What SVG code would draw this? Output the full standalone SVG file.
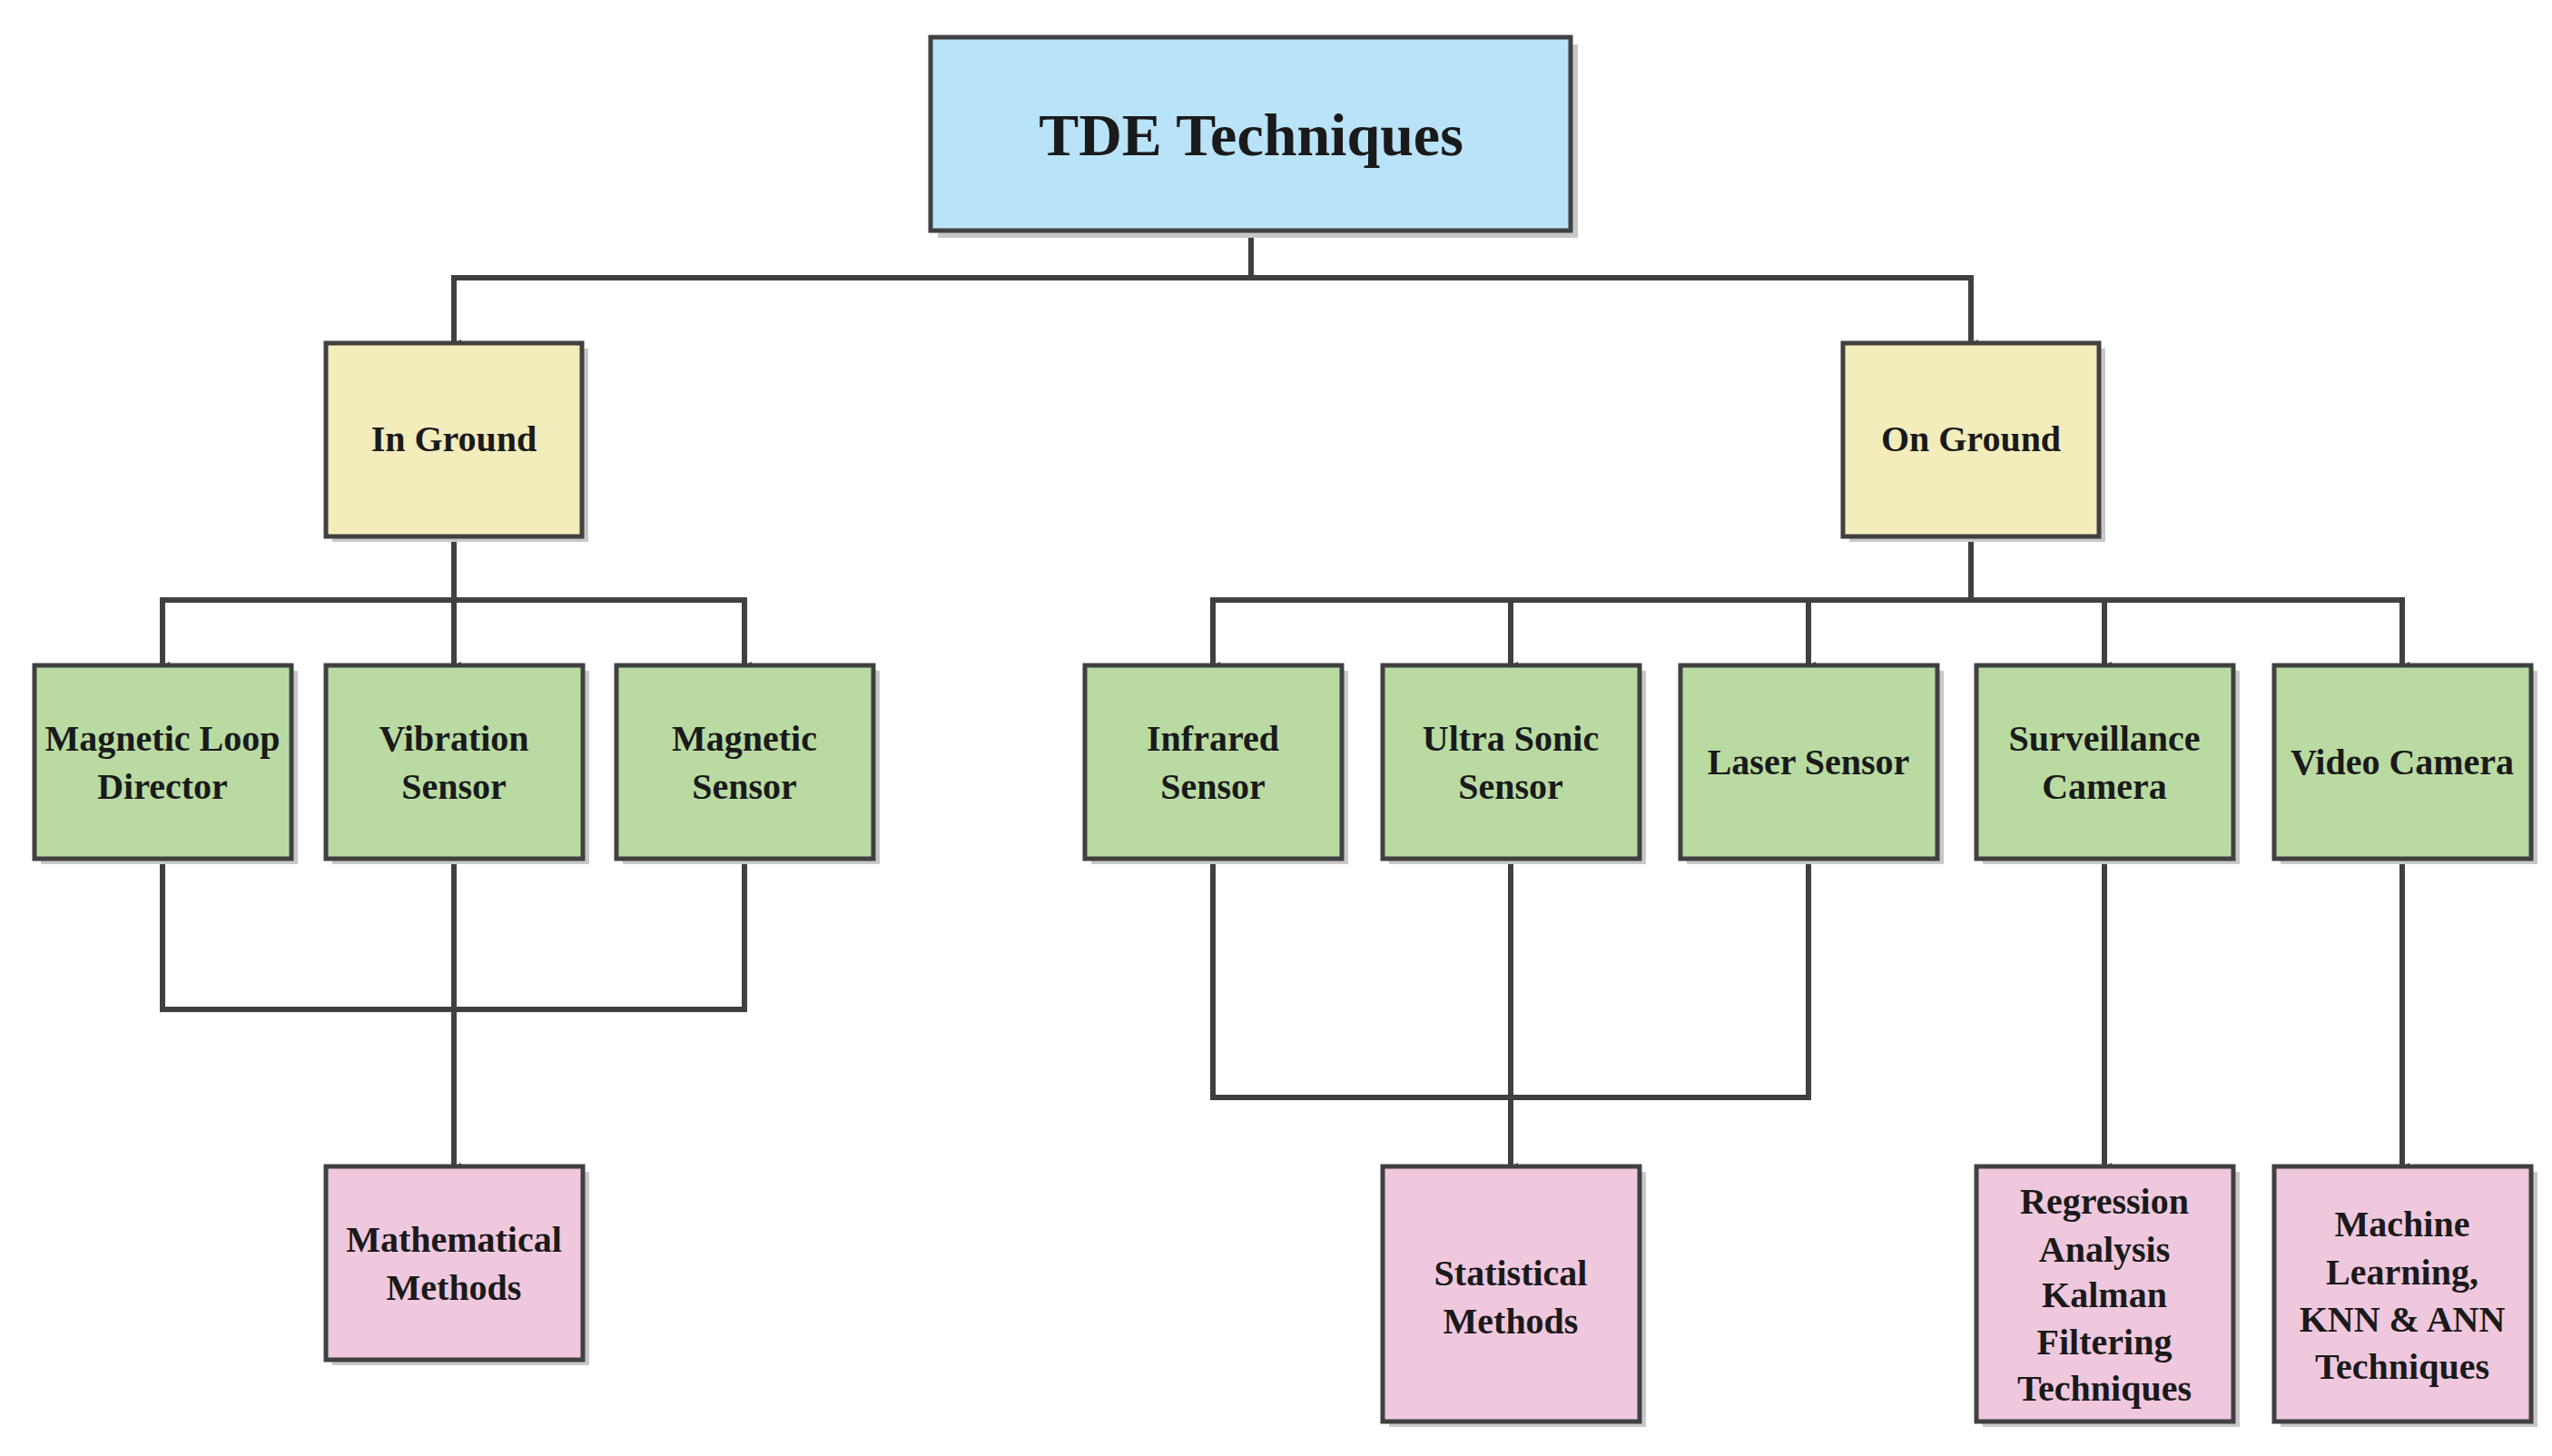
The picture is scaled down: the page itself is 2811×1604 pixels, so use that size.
<svg xmlns="http://www.w3.org/2000/svg" width="2811" height="1604" viewBox="0 0 2811 1604">
<defs>
<style>
.b{stroke:#404040;stroke-width:5}
.s{fill:#c8c8c8}
.t{font-family:"Liberation Serif","Times New Roman",serif;font-weight:bold;fill:#1a1a1a;text-anchor:middle;font-size:40px}
.c{fill:none;stroke:#404040;stroke-width:6}
</style>
<marker id="a" markerWidth="8" markerHeight="8" refX="4" refY="8" orient="auto" markerUnits="userSpaceOnUse" viewBox="0 0 8 8"><path d="M0,0 L8,0 L4,8 z" fill="#404040"/></marker>
</defs>
<rect width="2811" height="1604" fill="#fff"/>
<g id="connectors">
<path class="c" d="M1378,254 V306 H500 V378" marker-end="url(#a)"/>
<path class="c" d="M1378,306 H2171 V378" marker-end="url(#a)"/>
<path class="c" d="M500,591 V661 H179 V733" marker-end="url(#a)"/>
<path class="c" d="M500,661 V733" marker-end="url(#a)"/>
<path class="c" d="M500,661 H820 V733" marker-end="url(#a)"/>
<path class="c" d="M2171,591 V661 H1336 V733" marker-end="url(#a)"/>
<path class="c" d="M1664,661 V733" marker-end="url(#a)"/>
<path class="c" d="M1992,661 V733" marker-end="url(#a)"/>
<path class="c" d="M2171,661 H2646 V733" marker-end="url(#a)"/>
<path class="c" d="M2318,661 V733" marker-end="url(#a)"/>
<path class="c" d="M179,946 V1112 H820 V946"/>
<path class="c" d="M500,946 V1285" marker-end="url(#a)"/>
<path class="c" d="M1336,946 V1209 H1992 V946"/>
<path class="c" d="M1664,946 V1285" marker-end="url(#a)"/>
<path class="c" d="M2318,946 V1285" marker-end="url(#a)"/>
<path class="c" d="M2646,946 V1285" marker-end="url(#a)"/>
</g>
<g id="tde"><rect class="s" x="1033" y="49" width="705" height="213"/><rect class="b" x="1025" y="41" width="705" height="213" fill="#b9e3f8"/><text class="t" x="1378" y="171" style="font-size:66px">TDE Techniques</text></g>
<g id="inground"><rect class="s" x="366" y="384" width="282" height="213"/><rect class="b" x="359" y="378" width="282" height="213" fill="#f3ecbb"/><text class="t" x="500" y="497">In Ground</text></g>
<g id="onground"><rect class="s" x="2037" y="384" width="282" height="213"/><rect class="b" x="2030" y="378" width="282" height="213" fill="#f3ecbb"/><text class="t" x="2171" y="497">On Ground</text></g>
<g id="magloop"><rect class="s" x="45" y="739" width="283" height="213"/><rect class="b" x="38" y="733" width="283" height="213" fill="#b9dba2"/><text class="t" x="179" y="827">Magnetic Loop</text><text class="t" x="179" y="880">Director</text></g>
<g id="vibration"><rect class="s" x="366" y="739" width="283" height="213"/><rect class="b" x="359" y="733" width="283" height="213" fill="#b9dba2"/><text class="t" x="500" y="827">Vibration</text><text class="t" x="500" y="880">Sensor</text></g>
<g id="magnetic"><rect class="s" x="686" y="739" width="283" height="213"/><rect class="b" x="679" y="733" width="283" height="213" fill="#b9dba2"/><text class="t" x="820" y="827">Magnetic</text><text class="t" x="820" y="880">Sensor</text></g>
<g id="infrared"><rect class="s" x="1202" y="739" width="283" height="213"/><rect class="b" x="1195" y="733" width="283" height="213" fill="#b9dba2"/><text class="t" x="1336" y="827">Infrared</text><text class="t" x="1336" y="880">Sensor</text></g>
<g id="ultrasonic"><rect class="s" x="1530" y="739" width="283" height="213"/><rect class="b" x="1523" y="733" width="283" height="213" fill="#b9dba2"/><text class="t" x="1664" y="827">Ultra Sonic</text><text class="t" x="1664" y="880">Sensor</text></g>
<g id="laser"><rect class="s" x="1858" y="739" width="283" height="213"/><rect class="b" x="1851" y="733" width="283" height="213" fill="#b9dba2"/><text class="t" x="1992" y="853">Laser Sensor</text></g>
<g id="surveillance"><rect class="s" x="2184" y="739" width="283" height="213"/><rect class="b" x="2177" y="733" width="283" height="213" fill="#b9dba2"/><text class="t" x="2318" y="827">Surveillance</text><text class="t" x="2318" y="880">Camera</text></g>
<g id="video"><rect class="s" x="2512" y="739" width="283" height="213"/><rect class="b" x="2505" y="733" width="283" height="213" fill="#b9dba2"/><text class="t" x="2646" y="853">Video Camera</text></g>
<g id="math"><rect class="s" x="366" y="1291" width="283" height="213"/><rect class="b" x="359" y="1285" width="283" height="213" fill="#efc8de"/><text class="t" x="500" y="1379">Mathematical</text><text class="t" x="500" y="1432">Methods</text></g>
<g id="stat"><rect class="s" x="1530" y="1291" width="283" height="281"/><rect class="b" x="1523" y="1285" width="283" height="281" fill="#efc8de"/><text class="t" x="1664" y="1416">Statistical</text><text class="t" x="1664" y="1469">Methods</text></g>
<g id="regression"><rect class="s" x="2184" y="1291" width="283" height="281"/><rect class="b" x="2177" y="1285" width="283" height="281" fill="#efc8de"/><text class="t" x="2318" y="1337">Regression</text><text class="t" x="2318" y="1390">Analysis</text><text class="t" x="2318" y="1440">Kalman</text><text class="t" x="2318" y="1492">Filtering</text><text class="t" x="2318" y="1543">Techniques</text></g>
<g id="ml"><rect class="s" x="2512" y="1291" width="283" height="281"/><rect class="b" x="2505" y="1285" width="283" height="281" fill="#efc8de"/><text class="t" x="2646" y="1362">Machine</text><text class="t" x="2646" y="1415">Learning,</text><text class="t" x="2646" y="1467">KNN &amp; ANN</text><text class="t" x="2646" y="1519">Techniques</text></g>
</svg>
